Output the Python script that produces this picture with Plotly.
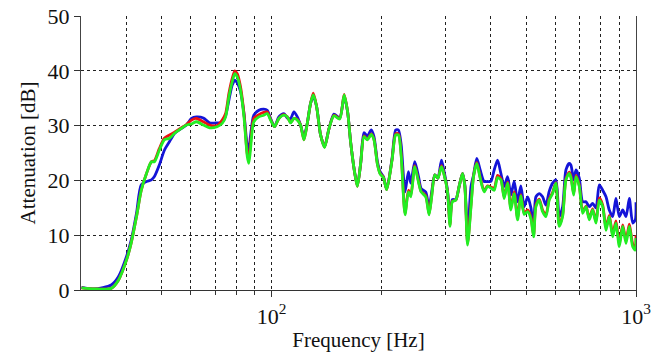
import math
import plotly.graph_objects as go

freq_hz = [
    30.1, 32.6, 36.3, 38.0, 40.0, 41.2, 42.6, 43.9, 45.4, 46.8,
    47.7, 49.2, 50.8, 52.5, 54.2, 56.6, 58.4, 60.3, 62.2, 65.0,
    67.6, 70.9, 73.2, 74.8, 76.4, 78.0, 79.3, 80.5, 82.2, 84.0,
    85.8, 86.6, 87.5, 89.4, 92.3, 95.2, 97.3, 99.4, 101.9, 104.7,
    108.1, 110.4, 112.8, 115.2, 117.7, 120.1, 122.7, 125.3, 128.0, 130.2,
    132.9, 136.3, 139.8, 143.7, 148.3, 153.8, 158.2, 161.7, 164.8, 169.0,
    172.0, 175.6, 179.3, 183.2, 187.7, 191.0, 195.1, 198.5, 202.7, 207.0,
    214.1, 219.1, 222.9, 226.8, 232.4, 237.4, 241.0, 247.1, 253.4, 257.3,
    264.9, 270.5, 275.0, 280.5, 286.0, 292.6, 297.5, 303.9, 308.9, 313.3,
    320.3, 327.1, 334.2, 339.1, 345.0, 352.6, 358.3, 365.7, 373.6, 383.1,
    391.3, 399.7, 408.2, 417.0, 425.8, 434.8, 444.2, 453.6, 463.2, 473.2,
    483.1, 493.4, 504.2, 514.8, 523.6, 531.3, 542.5, 554.3, 565.9, 577.9,
    590.5, 602.9, 615.7, 629.0, 642.3, 656.0, 663.0, 674.5, 684.4, 698.8,
    714.1, 729.0, 744.5, 760.3, 776.6, 793.0, 810.2, 827.3, 844.6, 862.9,
    881.0, 899.8, 919.4, 938.8, 958.6, 979.5, 995.6, 1000.0,
]

blue_db = [
    0.5, 0.2, 0.9, 2.4, 6.1, 9.1, 14.0, 19.2, 19.8, 20.1,
    20.7, 22.8, 25.5, 27.1, 28.6, 29.5, 30.1, 31.3, 31.6, 31.4,
    30.5, 30.5, 30.6, 31.8, 34.7, 37.4, 38.3, 37.8, 36.2, 32.2,
    26.2, 25.5, 28.0, 31.9, 32.8, 33.0, 32.8, 31.3, 29.8, 31.6,
    32.2, 31.4, 31.3, 32.5, 31.6, 30.1, 28.0, 30.4, 34.1, 35.3,
    33.5, 28.3, 26.2, 29.4, 32.1, 31.4, 35.3, 32.5, 27.0, 21.5,
    19.1, 23.1, 28.7, 28.1, 29.2, 28.0, 23.5, 21.6, 20.7, 18.4,
    24.0, 29.2, 29.2, 26.5, 17.9, 21.6, 19.5, 23.4, 20.5, 18.5,
    17.9, 14.9, 17.9, 21.0, 20.4, 23.7, 21.6, 18.2, 12.8, 16.5,
    16.5, 18.9, 21.3, 19.2, 10.0, 18.9, 21.0, 24.0, 21.9, 19.8,
    19.8, 19.8, 21.9, 23.7, 21.3, 18.9, 20.7, 17.3, 19.8, 16.1,
    19.0, 15.2, 17.0, 15.0, 11.5, 17.0, 17.6, 17.0, 15.5, 18.0,
    19.5, 20.1, 13.4, 15.2, 21.9, 23.1, 22.8, 20.1, 21.9, 20.4,
    16.1, 16.1, 15.2, 15.8, 15.0, 19.2, 18.2, 17.0, 14.6, 13.4,
    16.7, 13.4, 14.6, 13.4, 16.7, 12.2, 12.8, 16.0,
]

red_db = [
    0.4, 0.2, 0.3, 1.8, 5.5, 8.6, 13.4, 18.2, 21.3, 23.4,
    23.6, 25.8, 27.7, 28.3, 28.8, 29.6, 30.2, 31.0, 31.3, 30.7,
    30.1, 30.0, 31.0, 32.2, 35.9, 38.6, 40.0, 39.5, 37.1, 32.2,
    24.8, 24.0, 26.5, 31.3, 32.0, 32.4, 32.5, 31.1, 29.8, 31.3,
    32.0, 31.6, 30.6, 31.3, 31.1, 30.1, 27.4, 30.4, 34.1, 35.9,
    33.5, 28.3, 26.1, 29.4, 31.9, 31.3, 35.7, 32.5, 27.0, 21.5,
    18.9, 23.1, 28.1, 27.5, 28.5, 27.5, 23.1, 21.3, 20.6, 18.3,
    23.8, 28.5, 28.5, 24.8, 14.0, 18.2, 17.3, 22.7, 19.7, 18.0,
    17.2, 13.9, 17.2, 21.0, 20.4, 22.7, 21.1, 18.0, 11.8, 16.2,
    16.4, 18.9, 21.3, 19.0, 8.5, 15.6, 20.8, 23.3, 20.6, 18.1,
    19.0, 18.8, 18.6, 20.9, 20.3, 17.0, 19.7, 15.0, 17.9, 13.2,
    17.4, 14.0, 14.6, 13.3, 10.0, 15.5, 16.6, 14.6, 13.7, 16.6,
    17.8, 19.6, 11.9, 13.7, 20.3, 21.5, 20.8, 17.6, 20.9, 19.1,
    14.3, 15.3, 13.1, 14.8, 12.5, 16.8, 15.5, 11.4, 13.6, 10.1,
    12.6, 8.4, 11.9, 9.0, 12.0, 8.4, 7.8, 10.0,
]

green_db = [
    0.4, 0.2, 0.3, 1.8, 5.5, 8.6, 13.4, 18.2, 21.3, 23.4,
    23.4, 25.5, 27.4, 27.7, 28.6, 29.5, 30.1, 30.3, 30.7, 30.1,
    29.6, 29.8, 30.4, 31.6, 35.3, 38.0, 39.5, 38.9, 36.5, 31.6,
    24.3, 23.1, 25.5, 30.7, 31.6, 31.9, 32.2, 31.0, 29.8, 31.3,
    31.9, 31.6, 30.5, 31.3, 31.0, 30.1, 27.4, 30.4, 34.1, 35.6,
    33.5, 28.3, 26.0, 29.4, 31.8, 31.2, 35.6, 32.5, 27.0, 21.5,
    18.9, 23.1, 28.0, 27.4, 28.4, 27.4, 23.0, 21.2, 20.5, 18.3,
    23.7, 28.3, 28.3, 24.5, 13.7, 17.9, 17.0, 22.5, 19.5, 17.9,
    17.0, 13.7, 17.0, 21.0, 20.4, 22.5, 21.0, 17.9, 11.6, 16.1,
    16.4, 18.9, 21.3, 18.9, 8.2, 15.2, 20.7, 23.1, 20.4, 17.9,
    18.9, 18.6, 18.2, 20.5, 20.1, 16.7, 19.5, 14.6, 17.6, 12.8,
    17.2, 13.8, 14.3, 13.0, 9.7, 15.2, 16.4, 14.3, 13.4, 16.4,
    17.6, 19.5, 11.6, 13.4, 20.1, 21.3, 20.5, 17.3, 20.7, 18.9,
    14.0, 15.2, 12.8, 14.6, 12.2, 16.4, 15.2, 10.9, 13.4, 9.7,
    12.2, 7.9, 11.6, 8.5, 11.6, 7.9, 7.3, 9.5,
]

x_major_ticks = [100, 1000]
x_major_labels = ["10<sup>2</sup>", "10<sup>3</sup>"]
x_grid_ticks = [40, 50, 60, 70, 80, 90, 100, 200, 300, 400, 500, 600, 700, 800, 900]
y_ticks = [0, 10, 20, 30, 40, 50]
y_grid_ticks = [10, 20, 30, 40]

FONT = "Liberation Serif, Times New Roman, serif"

fig = go.Figure()
series = [
    (blue_db, "#1414d8"),
    (red_db, "#ee1111"),
    (green_db, "#22ee22"),
]
for vals, col in series:
    fig.add_trace(go.Scatter(
        x=freq_hz, y=vals, mode="lines",
        line=dict(color=col, width=2.8, shape="spline", smoothing=0.7),
        showlegend=False, hoverinfo="skip",
    ))

fig.update_layout(
    width=652, height=357,
    margin=dict(l=81, r=16, t=16, b=67),
    paper_bgcolor="white", plot_bgcolor="white",
    font=dict(family=FONT, size=22, color="#111"),
)
fig.update_xaxes(
    type="log", range=[math.log10(30), 3], automargin=False,
    tickmode="array", tickvals=x_major_ticks, ticktext=x_major_labels,
    ticks="outside", ticklen=6, tickcolor="#333", tickwidth=1,
    showgrid=False, zeroline=False,
    showline=True, linecolor="#333", linewidth=1.2, mirror=False,
    minor=dict(tickmode="array", tickvals=x_grid_ticks, showgrid=True,
               gridcolor="#222", griddash="3px,3px", gridwidth=1,
               ticks="outside", ticklen=4, tickcolor="#333"),
    title=dict(text="Frequency [Hz]", font=dict(family=FONT, size=21), standoff=4),
    tickfont=dict(family=FONT, size=22),
)
fig.update_yaxes(
    range=[0, 50], automargin=False,
    tickmode="array", tickvals=y_ticks,
    ticks="outside", ticklen=6, tickcolor="#333", tickwidth=1,
    showgrid=False, zeroline=False,
    showline=True, linecolor="#444", linewidth=1.2, mirror=True,
    minor=dict(tickmode="array", tickvals=y_grid_ticks, showgrid=True,
               gridcolor="#222", griddash="3px,3px", gridwidth=1, ticks=""),
    title=dict(text="Attenuation [dB]", font=dict(family=FONT, size=21), standoff=6),
    tickfont=dict(family=FONT, size=22),
)

fig.write_html("out.html")
